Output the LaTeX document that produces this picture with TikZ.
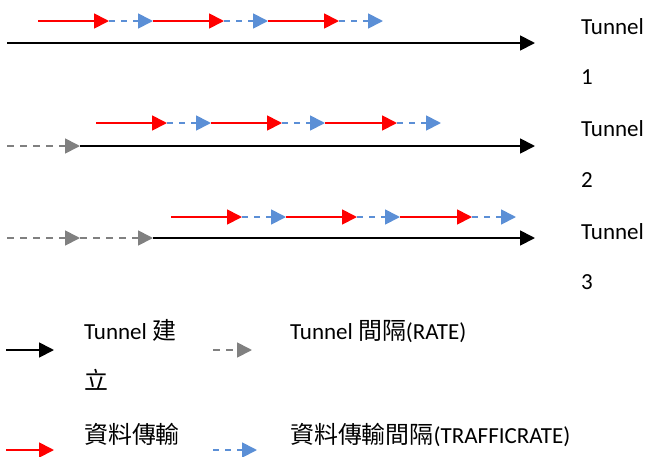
\documentclass[tikz,border=0pt]{standalone}
\usepackage{fontspec}
\setmainfont{Carlito}
\newfontfamily\cjk{Noto Sans CJK TC}[Scale=1.04]
\usetikzlibrary{arrows.meta}
\definecolor{tred}{HTML}{FF0000}
\definecolor{tblue}{HTML}{5B8FD6}
\definecolor{tgray}{HTML}{808080}
\tikzset{
  tip/.style={-{Triangle[length=15pt,width=15pt]}},
  blackline/.style={tip,draw=black,line width=1.8pt},
  redline/.style={tip,draw=tred,line width=1.8pt},
  blueline/.style={tip,draw=tblue,line width=1.8pt,dash pattern=on 6pt off 6pt},
  grayline/.style={tip,draw=tgray,line width=1.8pt,dash pattern=on 7pt off 6pt},
  lbl/.style={anchor=base west,inner sep=0pt,font=\fontsize{23}{27}\selectfont},
}
\begin{document}
\begin{tikzpicture}[x=1pt,y=-1pt]
\useasboundingbox (0,0) rectangle (649,456);
% Row 1
\coordinate (r1a) at (38,21); \coordinate (r1b) at (109,21); \coordinate (r1c) at (153,21);
\coordinate (r1d) at (224,21); \coordinate (r1e) at (268,21); \coordinate (r1f) at (339,21);
\coordinate (r1g) at (383,21);
\draw[redline] (r1a) -- (r1b); \draw[blueline] (r1b) -- (r1c);
\draw[redline] (r1c) -- (r1d); \draw[blueline] (r1d) -- (r1e);
\draw[redline] (r1e) -- (r1f); \draw[blueline] (r1f) -- (r1g);
\coordinate (k1s) at (7,43); \coordinate (k1e) at (535,43);
\draw[blackline] (k1s) -- (k1e);
% Row 2
\coordinate (r2a) at (96,123); \coordinate (r2b) at (167,123); \coordinate (r2c) at (211,123);
\coordinate (r2d) at (282,123); \coordinate (r2e) at (325,123); \coordinate (r2f) at (397,123);
\coordinate (r2g) at (441,123);
\draw[redline] (r2a) -- (r2b); \draw[blueline] (r2b) -- (r2c);
\draw[redline] (r2c) -- (r2d); \draw[blueline] (r2d) -- (r2e);
\draw[redline] (r2e) -- (r2f); \draw[blueline] (r2f) -- (r2g);
\coordinate (g2s) at (7,146); \coordinate (g2e) at (80,146); \coordinate (k2e) at (535,146);
\draw[grayline] (g2s) -- (g2e);
\draw[blackline] (g2e) -- (k2e);
% Row 3
\coordinate (r3a) at (171,217); \coordinate (r3b) at (242,217); \coordinate (r3c) at (286,217);
\coordinate (r3d) at (357,217); \coordinate (r3e) at (400,217); \coordinate (r3f) at (472,217);
\coordinate (r3g) at (516,217);
\draw[redline] (r3a) -- (r3b); \draw[blueline] (r3b) -- (r3c);
\draw[redline] (r3c) -- (r3d); \draw[blueline] (r3d) -- (r3e);
\draw[redline] (r3e) -- (r3f); \draw[blueline] (r3f) -- (r3g);
\coordinate (g3s) at (7,238); \coordinate (g3m) at (80,238); \coordinate (g3e) at (153,238);
\coordinate (k3e) at (535,238);
\draw[grayline] (g3s) -- (g3m);
\draw[grayline] (g3m) -- (g3e);
\draw[blackline] (g3e) -- (k3e);
% Tunnel labels
\node[lbl] (t1a) at (581,34) {Tunnel};
\node[lbl] (t1b) at (581,84) {1};
\node[lbl] (t2a) at (581,136) {Tunnel};
\node[lbl] (t2b) at (581,187) {2};
\node[lbl] (t3a) at (581,239) {Tunnel};
\node[lbl] (t3b) at (581,289) {3};
% Legend
\coordinate (l1s) at (6,350); \coordinate (l1e) at (54,350);
\draw[blackline] (l1s) -- (l1e);
\node[lbl] (l1t) at (84,339) {Tunnel {\cjk 建}};
\node[lbl] (l1u) at (84,389) {{\cjk 立}};
\coordinate (l2s) at (213,350); \coordinate (l2e) at (252,350);
\draw[grayline] (l2s) -- (l2e);
\node[lbl] (l2t) at (290,339) {Tunnel {\cjk 間隔}(RATE)};
\coordinate (l3s) at (6,450); \coordinate (l3e) at (54,450);
\draw[redline] (l3s) -- (l3e);
\node[lbl] (l3t) at (84,443) {{\cjk 資料傳輸}};
\coordinate (l4s) at (213,450); \coordinate (l4e) at (257,450);
\draw[blueline] (l4s) -- (l4e);
\node[lbl] (l4t) at (290,443) {{\cjk 資料傳輸間隔}(TRAFFICRATE)};
\end{tikzpicture}
\end{document}
